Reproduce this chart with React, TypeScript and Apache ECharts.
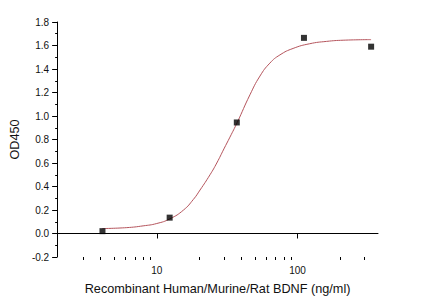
import React, { useEffect, useRef } from "react";
import * as echarts from "echarts";

// Measured points
const concentrations = [4.115, 12.35, 37.04, 111.1, 333.3];
const odValues = [0.02, 0.135, 0.945, 1.665, 1.59];

// Fitted curve
const fitConc = [4.11, 6.12, 8, 10, 12.4, 15.5, 18.2, 20.3, 23.9, 26.7, 30, 33.1, 37.3, 45.9, 54.1, 63.6, 75, 93, 122, 161, 211, 333];
const fitOD = [0.042, 0.05, 0.065, 0.085, 0.125, 0.2, 0.29, 0.37, 0.5, 0.6, 0.72, 0.82, 0.945, 1.18, 1.34, 1.45, 1.52, 1.575, 1.615, 1.635, 1.645, 1.65];

// Tick values
const xMajorTicks = [10, 100];
const xMinorTicks = [3, 4, 5, 6, 7, 8, 9, 20, 30, 40, 50, 60, 70, 80, 90, 200, 300];

const X_MIN = 1.96;
const X_MAX = 373;
const FONT = '"Liberation Sans", Arial, sans-serif';
const TEXT = "#111";

export default function App() {
  const ref = useRef<HTMLDivElement>(null);

  useEffect(() => {
    if (!ref.current) return;
    const chart = echarts.init(ref.current, undefined, { renderer: "svg" });
    chart.setOption({
      animation: false,
      backgroundColor: "#fff",
      textStyle: { fontFamily: FONT },
      grid: { left: 57, right: 56, top: 22, bottom: 47 },
      xAxis: [
        {
          type: "log",
          logBase: 10,
          min: X_MIN,
          max: X_MAX,
          name: "Recombinant Human/Murine/Rat BDNF (ng/ml)",
          nameLocation: "middle",
          nameGap: 25,
          nameTextStyle: { fontSize: 12.7, color: TEXT, fontFamily: FONT },
          axisLine: { show: true, lineStyle: { color: "#000", width: 1 } },
          axisTick: { show: true, customValues: xMajorTicks, length: 5, lineStyle: { color: "#000" } },
          axisLabel: { customValues: xMajorTicks, fontSize: 10, color: TEXT, margin: 8, fontFamily: FONT },
          splitLine: { show: false },
          minorTick: { show: false },
        },
        {
          type: "log",
          logBase: 10,
          min: X_MIN,
          max: X_MAX,
          position: "bottom",
          axisLine: { show: false },
          axisTick: { show: true, customValues: xMinorTicks, length: 3, lineStyle: { color: "#000" } },
          axisLabel: { show: false },
          splitLine: { show: false },
        },
      ],
      yAxis: {
        type: "value",
        min: -0.2,
        max: 1.8,
        interval: 0.2,
        name: "OD450",
        nameLocation: "middle",
        nameGap: 30,
        nameTextStyle: { fontSize: 12.7, color: TEXT, fontFamily: FONT },
        axisLine: { show: true, lineStyle: { color: "#000", width: 1 } },
        axisTick: { show: true, length: 5, lineStyle: { color: "#000" } },
        minorTick: { show: true, splitNumber: 2, length: 2, lineStyle: { color: "#000" } },
        axisLabel: {
          fontSize: 10,
          color: TEXT,
          margin: 8,
          fontFamily: FONT,
          formatter: (v: number) => v.toFixed(1),
        },
        splitLine: { show: false },
      },
      series: [
        {
          type: "line",
          xAxisIndex: 0,
          data: fitConc.map((c, i) => [c, fitOD[i]]),
          smooth: 0.5,
          showSymbol: false,
          lineStyle: { color: "#b5545c", width: 1 },
          z: 2,
        },
        {
          type: "scatter",
          xAxisIndex: 0,
          data: concentrations.map((c, i) => [c, odValues[i]]),
          symbol: "rect",
          symbolSize: 6,
          itemStyle: { color: "#000" },
          z: 3,
        },
      ],
    });
    return () => chart.dispose();
  }, []);

  return (
    <div
      ref={ref}
      style={{ position: "fixed", left: 0, top: 0, width: 434, height: 304, background: "#fff" }}
    />
  );
}
